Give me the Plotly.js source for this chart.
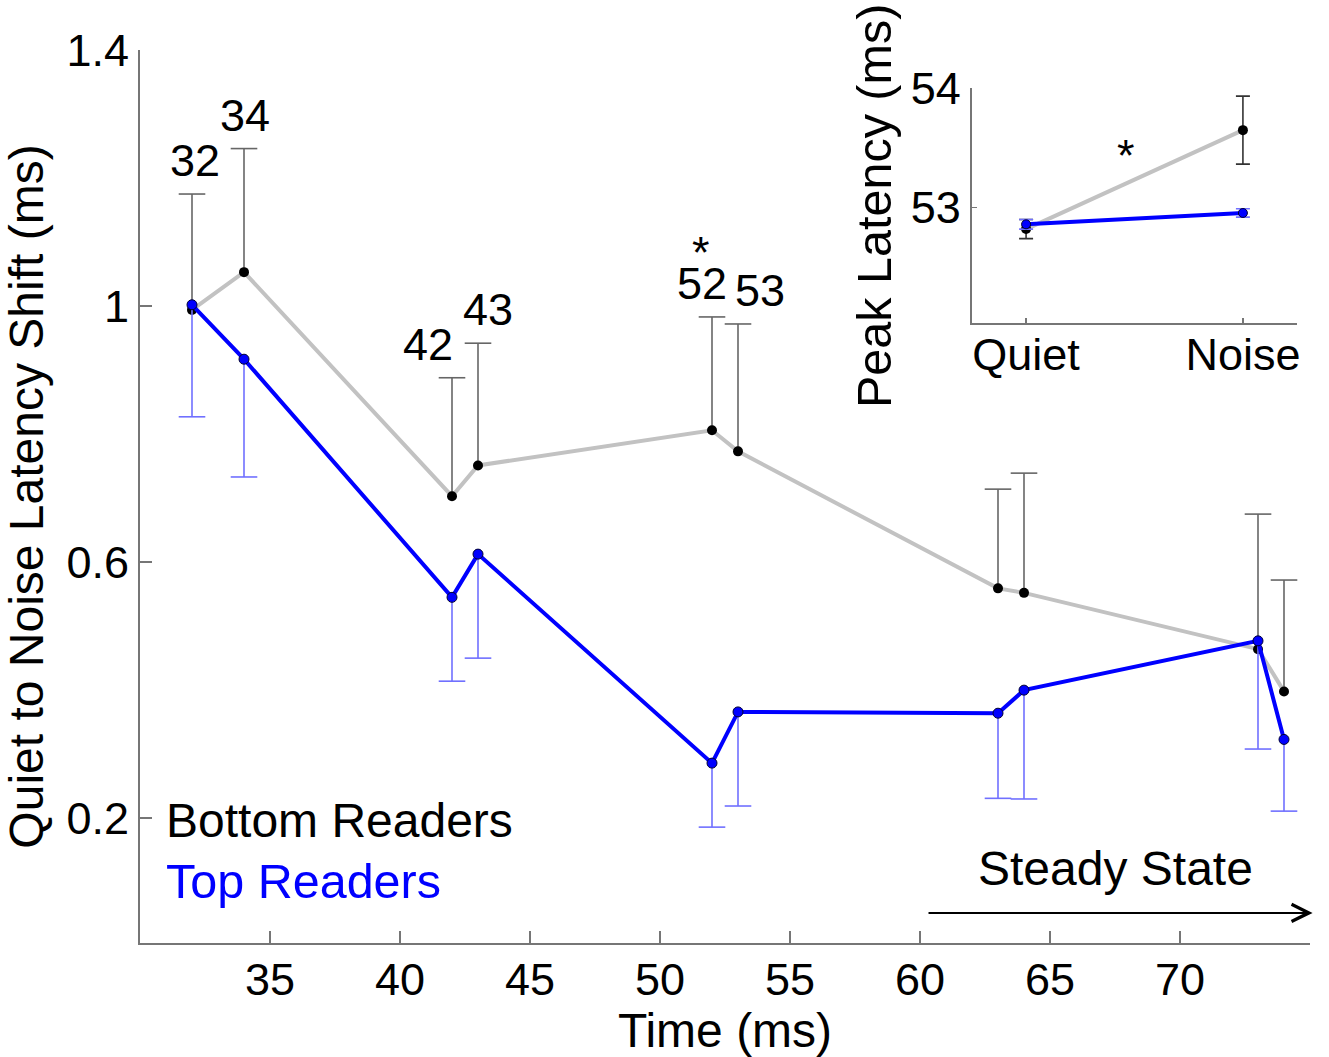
<!DOCTYPE html>
<html>
<head>
<meta charset="utf-8">
<script src="https://cdn.plot.ly/plotly-3.0.1.min.js"></script>
<style>
html,body{margin:0;padding:0;background:#fff;}
#chart{width:1329px;height:1057px;}
</style>
</head>
<body>
<div id="chart"></div>
<script>
// ---- data ----
var times = [32, 34, 42, 43, 52, 53, 63, 64, 73, 74];
var bottomShift = [0.994, 1.053, 0.703, 0.751, 0.806, 0.773, 0.559, 0.552, 0.464, 0.398];
var bottomErrUp = [0.181, 0.193, 0.185, 0.191, 0.177, 0.199, 0.155, 0.187, 0.211, 0.174];
var topShift = [1.002, 0.917, 0.545, 0.6125, 0.286, 0.366, 0.364, 0.400, 0.477, 0.323];
var topErrDown = [0.175, 0.184, 0.131, 0.1625, 0.100, 0.147, 0.133, 0.170, 0.169, 0.112];
var labeledTimes = ['32', '34', '42', '43', '52', '53'];
var yTickVals = [0.2, 0.6, 1, 1.4];
var yTickText = ['0.2', '0.6', '1', '1.4'];
var xTickVals = [35, 40, 45, 50, 55, 60, 65, 70];

var insetConditions = ['Quiet', 'Noise'];
var insetBottom = [52.82, 53.65];
var insetBottomErr = [0.08, 0.285];
var insetTop = [52.86, 52.955];
var insetTopErr = [0.04, 0.035];
var insetTickVals = [53, 54];

// ---- styles ----
var FONT = 'Liberation Sans, Arial, Helvetica, sans-serif';
var AXCOL = '#767676';
var BOTERR = '#666666';
var TOPERR = '#7070ff';
var GRAYLINE = '#c2c2c2';
var BLUE = '#0000ff';

function stems(xs, ys, ends) {
  var sx = [], sy = [];
  for (var i = 0; i < xs.length; i++) {
    sx.push(xs[i], xs[i], null);
    sy.push(ys[i], ends[i], null);
  }
  return {x: sx, y: sy};
}
var bottomEnds = bottomShift.map(function (v, i) { return v + bottomErrUp[i]; });
var topEnds = topShift.map(function (v, i) { return v - topErrDown[i]; });
var bs = stems(times, bottomShift, bottomEnds);
var ts = stems(times, topShift, topEnds);

var traces = [
  // bottom readers error stems + caps
  {x: bs.x, y: bs.y, mode: 'lines', line: {color: BOTERR, width: 1.6}, hoverinfo: 'skip', showlegend: false},
  {x: times, y: bottomEnds, mode: 'markers', marker: {symbol: 'line-ew-open', size: 19, color: BOTERR, line: {color: BOTERR, width: 1.6}}, hoverinfo: 'skip', showlegend: false},
  // bottom readers line
  {x: times, y: bottomShift, mode: 'lines+markers', name: 'Bottom Readers',
   line: {color: GRAYLINE, width: 4}, marker: {color: '#000', size: 10}, showlegend: false},
  // top readers error stems + caps
  {x: ts.x, y: ts.y, mode: 'lines', line: {color: TOPERR, width: 1.6}, hoverinfo: 'skip', showlegend: false},
  {x: times, y: topEnds, mode: 'markers', marker: {symbol: 'line-ew-open', size: 19, color: TOPERR, line: {color: TOPERR, width: 1.6}}, hoverinfo: 'skip', showlegend: false},
  // top readers line
  {x: times, y: topShift, mode: 'lines+markers', name: 'Top Readers',
   line: {color: BLUE, width: 4}, marker: {color: BLUE, size: 10, line: {color: '#000033', width: 1}}, showlegend: false},
  // inset
  {x: insetConditions, y: insetBottom, mode: 'lines+markers', xaxis: 'x2', yaxis: 'y2',
   line: {color: GRAYLINE, width: 4}, marker: {color: '#000', size: 10},
   error_y: {type: 'data', array: insetBottomErr, visible: true, color: '#333', thickness: 1.6, width: 7}, showlegend: false},
  {x: insetConditions, y: insetTop, mode: 'lines+markers', xaxis: 'x2', yaxis: 'y2',
   line: {color: BLUE, width: 4}, marker: {color: BLUE, size: 9, line: {color: '#000033', width: 1}},
   error_y: {type: 'data', array: insetTopErr, visible: true, color: TOPERR, thickness: 1.6, width: 7}, showlegend: false}
];

var labelXShift = [3, 1, -24, 10, -10, 22];
var annotations = labeledTimes.map(function (lab, i) {
  return {x: times[i], y: bottomEnds[i], xref: 'x', yref: 'y', text: lab, showarrow: false,
          xanchor: 'center', yanchor: 'bottom', xshift: labelXShift[i], yshift: 6,
          font: {family: FONT, size: 45, color: '#000'}};
});
annotations.push(
  {x: times[4], y: bottomEnds[4], xref: 'x', yref: 'y', text: '*', showarrow: false,
   xanchor: 'center', yanchor: 'bottom', xshift: -11, yshift: 62, height: 26, valign: 'top',
   font: {family: FONT, size: 45, color: '#000'}},
  {x: 0.46, y: 53.48, xref: 'x2', yref: 'y2', text: '*', showarrow: false,
   xanchor: 'center', yanchor: 'middle', yshift: -5, font: {family: FONT, size: 45, color: '#000'}},
  {x: 30.92, y: 0.197, xref: 'x', yref: 'y', text: 'Bottom Readers', showarrow: false,
   xanchor: 'left', yanchor: 'middle', font: {family: FONT, size: 48, color: '#000'}},
  {x: 30.92, y: 0.102, xref: 'x', yref: 'y', text: 'Top Readers', showarrow: false,
   xanchor: 'left', yanchor: 'middle', font: {family: FONT, size: 48.5, color: BLUE}},
  {x: 67.5, y: 0.121, xref: 'x', yref: 'y', text: 'Steady State', showarrow: false,
   xanchor: 'center', yanchor: 'middle', font: {family: FONT, size: 48, color: '#000'}},
  {x: 75.1, y: 0.052, ax: 60.27, ay: 0.052, xref: 'x', yref: 'y', axref: 'x', ayref: 'y',
   text: '', showarrow: true, arrowhead: 5, arrowsize: 1.7, arrowwidth: 2, arrowcolor: '#000', standoff: 0}
);

var layout = {
  width: 1329, height: 1057,
  paper_bgcolor: '#fff', plot_bgcolor: 'rgba(0,0,0,0)',
  margin: {l: 140, r: 19, t: 50, b: 114},
  font: {family: FONT, color: '#000', size: 45},
  showlegend: false,
  xaxis: {
    range: [30, 75], tickvals: xTickVals, ticks: 'inside', ticklen: 12, tickwidth: 1.5, tickcolor: AXCOL,
    showline: true, linecolor: AXCOL, linewidth: 2, showgrid: false, zeroline: false,
    tickfont: {family: FONT, size: 45, color: '#000'}, ticklabelstandoff: -4,
    title: {text: 'Time (ms)', font: {family: FONT, size: 48, color: '#000'}, standoff: 0},
    automargin: false
  },
  yaxis: {
    range: [0.005, 1.4], tickvals: yTickVals, ticktext: yTickText, ticks: 'inside', ticklen: 12, tickwidth: 1.5, tickcolor: AXCOL,
    showline: true, linecolor: AXCOL, linewidth: 2, showgrid: false, zeroline: false,
    tickfont: {family: FONT, size: 45, color: '#000'},
    title: {text: 'Quiet to Noise Latency Shift (ms)', font: {family: FONT, size: 48, color: '#000'}, standoff: 10},
    automargin: false
  },
  xaxis2: {
    domain: [0.711, 0.989], anchor: 'y2', type: 'category', range: [-0.25, 1.25],
    ticks: 'inside', ticklen: 5, tickwidth: 1.5, tickcolor: AXCOL,
    showline: true, linecolor: AXCOL, linewidth: 2, showgrid: false, zeroline: false,
    tickfont: {family: FONT, size: 45, color: '#000'}, ticklabelstandoff: -9, automargin: false
  },
  yaxis2: {
    domain: [0.694, 0.957], anchor: 'x2', range: [52.03, 54], tickvals: insetTickVals,
    ticks: 'inside', ticklen: 5, tickwidth: 1.5, tickcolor: AXCOL,
    showline: true, linecolor: AXCOL, linewidth: 2, showgrid: false, zeroline: false,
    tickfont: {family: FONT, size: 45, color: '#000'},
    title: {text: 'Peak Latency (ms)', font: {family: FONT, size: 48.5, color: '#000'}, standoff: 4},
    automargin: false
  },
  annotations: annotations
};

Plotly.newPlot('chart', traces, layout, {displayModeBar: false, staticPlot: true});
</script>
</body>
</html>
